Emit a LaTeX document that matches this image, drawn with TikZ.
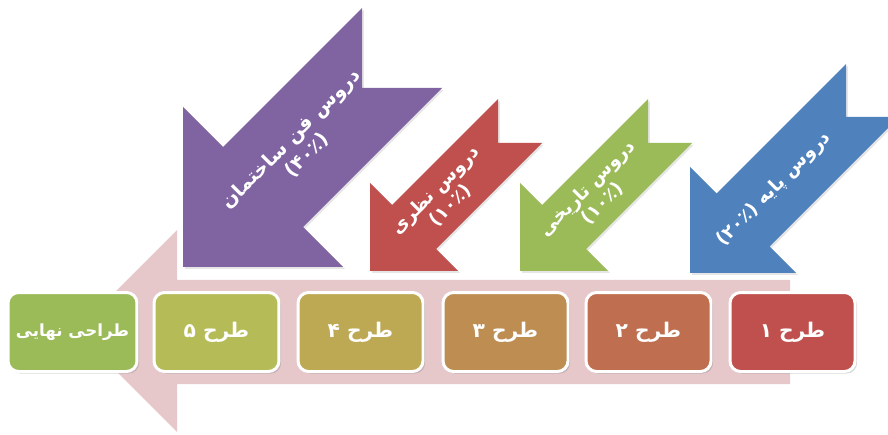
\documentclass[tikz,border=0pt]{standalone}
\usepackage{fontspec}
\usetikzlibrary{shadows}
\newfontfamily\farsi[Script=Arabic]{DejaVu Sans}
\TeXXeTstate=1

\definecolor{band}{HTML}{E6C8CA}
\definecolor{tblue}{HTML}{4F81BD}
\definecolor{tgreen}{HTML}{9BBB59}
\definecolor{tred}{HTML}{C0504D}
\definecolor{tpurple}{HTML}{8064A2}
\definecolor{plan1}{HTML}{C0504D}
\definecolor{plan2}{HTML}{BF6F4F}
\definecolor{plan3}{HTML}{BE8D52}
\definecolor{plan4}{HTML}{BDA954}
\definecolor{plan5}{HTML}{B5BC57}
\definecolor{planf}{HTML}{9BBB59}

\begin{document}
\begin{tikzpicture}[x=0.02cm,y=-0.02cm]
    \tikzset{% This is the style settings for the picture
    plan/.style={rounded corners=6pt,draw=white,line width=1.7pt,minimum width=2.5cm,minimum height=1.58cm,text=white,font=\farsi\bfseries\fontsize{11.5}{13}\selectfont,drop shadow={shadow xshift=1.2pt,shadow yshift=-1.2pt,opacity=0.3}},
    course/.style={drop shadow={shadow xshift=1pt,shadow yshift=-1pt,opacity=0.2}},
    share/.style={text=white,rotate=45,align=center,inner sep=1pt,font=\farsi\bfseries\fontsize{10.5}{12.5}\selectfont},
    }
    \useasboundingbox (0,0) rectangle (888,435);

    % Band
    \fill[band] (790,280) -- (177,280) -- (177,230) -- (76,331) -- (177,432) -- (177,384) -- (790,384) -- cycle;

    % Nodes
    \node[plan,fill=plan1] (p1) at (792.5,332) {\beginR طرح ۱\endR};
    \node[plan,fill=plan2] (p2) at (648.5,332) {\beginR طرح ۲\endR};
    \node[plan,fill=plan3] (p3) at (505.5,332) {\beginR طرح ۳\endR};
    \node[plan,fill=plan4] (p4) at (360.5,332) {\beginR طرح ۴\endR};
    \node[plan,fill=plan5] (p5) at (216.5,332) {\beginR طرح ۵\endR};
    \node[plan,fill=planf,minimum width=2.58cm,font=\farsi\bfseries\fontsize{9.5}{12}\selectfont] (pf) at (72.5,332) {\beginR طراحی نهایی\endR};

    % Arrows
    \fill[course,tblue] (690,273) -- (690,167) -- (716.5,193.5) -- (846,64) -- (846,117) -- (899,117) -- (769.5,246.5) -- (796,273) -- cycle;
    \fill[course,tgreen] (520,271) -- (520,183) -- (542,205) -- (648,99) -- (648,143) -- (692,143) -- (586,249) -- (608,271) -- cycle;
    \fill[course,tred] (370,271) -- (370,183) -- (392,205) -- (498,99) -- (498,143) -- (542,143) -- (436,249) -- (458,271) -- cycle;
    \fill[course,tpurple] (183,267) -- (183,107) -- (223,147) -- (362,8) -- (362,88) -- (442,88) -- (303,227) -- (343,267) -- cycle;

    % Labels
    \node[share] (c1) at (774,189) {\beginR دروس پایه (۲۰٪)\endR};
    \node[share] (c2) at (595,196) {\beginR دروس تاریخی\endR\\\beginR (۱۰٪)\endR};
    \node[share] (c3) at (443,198) {\beginR دروس نظری\endR\\\beginR (۱۰٪)\endR};
    \node[share,font=\farsi\bfseries\fontsize{11}{13}\selectfont] (c4) at (299,147) {\beginR دروس فن ساختمان\endR\\\beginR (۴۰٪)\endR};

\end{tikzpicture}
\end{document}
